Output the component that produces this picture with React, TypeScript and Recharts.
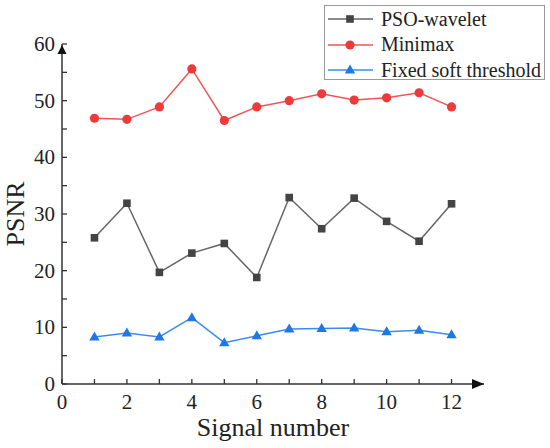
import React from "react";
import { LineChart, Line, XAxis, YAxis, ReferenceDot } from "recharts";

const signals = [1, 2, 3, 4, 5, 6, 7, 8, 9, 10, 11, 12];
const psoWavelet = [25.8, 31.9, 19.7, 23.1, 24.8, 18.8, 32.9, 27.4, 32.8, 28.7, 25.2, 31.8];
const minimax = [46.9, 46.7, 48.9, 55.6, 46.5, 48.9, 50.0, 51.2, 50.1, 50.5, 51.4, 48.9];
const fixedSoft = [8.3, 9.0, 8.3, 11.7, 7.3, 8.5, 9.7, 9.8, 9.9, 9.2, 9.5, 8.7];

const xTicks = [0, 1, 2, 3, 4, 5, 6, 7, 8, 9, 10, 11, 12];
const yTicks = [0, 5, 10, 15, 20, 25, 30, 35, 40, 45, 50, 55, 60];

const FONT = "Liberation Serif";
const AXIS = "#333";

const data = signals.map((s, i) => ({
  x: s,
  pso: psoWavelet[i],
  minimax: minimax[i],
  fixed: fixedSoft[i],
}));

const Square = ({ cx, cy, fill }: any) => (
  <rect x={cx - 3.8} y={cy - 3.8} width={7.6} height={7.6} fill={fill} />
);
const Circle = ({ cx, cy, fill }: any) => <circle cx={cx} cy={cy} r={4.6} fill={fill} />;
const Triangle = ({ cx, cy, fill }: any) => (
  <polygon points={`${cx},${cy - 5.5} ${cx + 5.2},${cy + 3.5} ${cx - 5.2},${cy + 3.5}`} fill={fill} />
);

const series = [
  { key: "pso", name: "PSO-wavelet", line: "#666", mark: "#444", Dot: Square },
  { key: "minimax", name: "Minimax", line: "#f25454", mark: "#ee3a3a", Dot: Circle },
  { key: "fixed", name: "Fixed soft threshold", line: "#3d8af0", mark: "#2177e6", Dot: Triangle },
];

const XTick = ({ x, y, payload }: any) => (
  <g>
    <line x1={x} y1={y} x2={x} y2={y - 5} stroke={AXIS} strokeWidth={1.3} />
    {payload.value % 2 === 0 && (
      <text x={x} y={y + 18} textAnchor="middle" dominantBaseline="central" fontSize={21} fontFamily={FONT} fill="#222">
        {payload.value}
      </text>
    )}
  </g>
);

const YTick = ({ x, y, payload }: any) => (
  <g>
    <line x1={x} y1={y} x2={x + 5} y2={y} stroke={AXIS} strokeWidth={1.3} />
    {payload.value % 10 === 0 && (
      <text x={x - 7} y={y} textAnchor="end" dominantBaseline="central" fontSize={21} fontFamily={FONT} fill="#222">
        {payload.value}
      </text>
    )}
  </g>
);

const YLabel = ({ viewBox }: any) => {
  const cx = viewBox.x + 15;
  const cy = viewBox.y + viewBox.height / 2;
  return (
    <text
      x={cx}
      y={cy}
      transform={`rotate(-90, ${cx}, ${cy})`}
      textAnchor="middle"
      dominantBaseline="central"
      fontSize={26}
      fontFamily={FONT}
      fill="#222"
    >
      PSNR
    </text>
  );
};

const ArrowRight = ({ cx, cy }: any) => (
  <polygon points={`${cx},${cy} ${cx - 12},${cy - 5} ${cx - 12},${cy + 5}`} fill="#111" />
);
const ArrowUp = ({ cx, cy }: any) => (
  <polygon points={`${cx},${cy + 1} ${cx - 4.5},${cy + 10} ${cx + 4.5},${cy + 10}`} fill="#111" />
);

const LegendBox = () => (
  <div
    style={{
      position: "absolute",
      left: 324,
      top: 5,
      width: 221,
      height: 75,
      border: "1px solid #999",
      background: "#fff",
      fontFamily: FONT,
      fontSize: 20,
      color: "#222",
      boxSizing: "border-box",
    }}
  >
    {series.map((s, i) => (
      <div key={s.key} style={{ position: "absolute", left: 0, top: 1 + i * 25.5, height: 24, display: "flex", alignItems: "center" }}>
        <svg width={54} height={24}>
          <line x1={3} y1={12} x2={48} y2={12} stroke={s.line} strokeWidth={1.5} />
          <s.Dot cx={25} cy={12} fill={s.mark} />
        </svg>
        <span style={{ marginLeft: 2, whiteSpace: "nowrap" }}>{s.name}</span>
      </div>
    ))}
  </div>
);

export default function App() {
  return (
    <div style={{ position: "absolute", left: 0, top: 0, width: 550, height: 448, background: "#fff" }}>
      <LineChart width={550} height={448} data={data} margin={{ top: 44, right: 66, bottom: 0, left: 0 }}>
        <XAxis
          type="number"
          dataKey="x"
          domain={[0, 13]}
          ticks={xTicks}
          interval={0}
          height={64}
          tickSize={0}
          tickMargin={0}
          tick={<XTick />}
          axisLine={{ stroke: AXIS, strokeWidth: 1.5 }}
          label={{ value: "Signal number", position: "insideBottom", offset: 12, fontSize: 26, fontFamily: FONT, fill: "#222" }}
        />
        <YAxis
          type="number"
          domain={[0, 60]}
          ticks={yTicks}
          interval={0}
          width={62}
          tickSize={0}
          tickMargin={0}
          tick={<YTick />}
          axisLine={{ stroke: AXIS, strokeWidth: 1.5 }}
          label={<YLabel />}
        />
        {series.map((s) => (
          <Line
            key={s.key}
            dataKey={s.key}
            name={s.name}
            type="linear"
            stroke={s.line}
            strokeWidth={1.5}
            dot={(p: any) => <s.Dot key={p.index} cx={p.cx} cy={p.cy} fill={s.mark} />}
            activeDot={false}
            isAnimationActive={false}
          />
        ))}
        <ReferenceDot x={13} y={0} ifOverflow="visible" shape={<ArrowRight />} />
        <ReferenceDot x={0} y={60} ifOverflow="visible" shape={<ArrowUp />} />
      </LineChart>
      <LegendBox />
    </div>
  );
}
